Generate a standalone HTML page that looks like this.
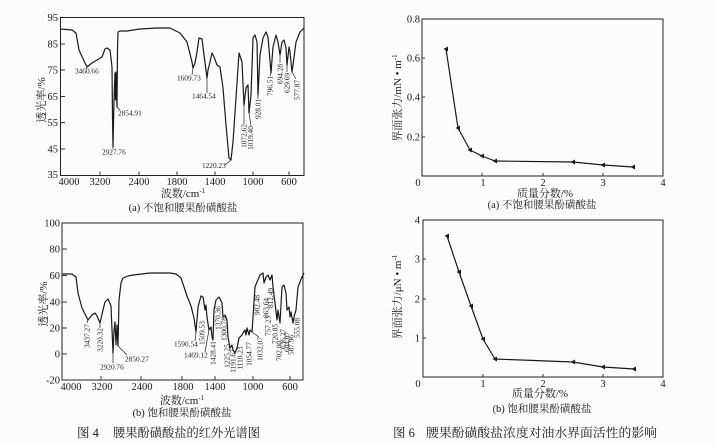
<!DOCTYPE html>
<html>
<head>
<meta charset="utf-8">
<style>
  html,body{margin:0;padding:0;background:#fcfcfc;}
  svg{display:block;}
  text{font-family:"Liberation Serif","Noto Serif CJK SC","Noto Sans CJK SC",serif;fill:#1a1a1a;}
  .t{font-size:10.5px;}
  .pk{font-size:7.3px;}
  .lab{font-size:11px;}
  .cap{font-size:10.5px;}
  .fig{font-size:12.5px;}
  .ax{fill:none;stroke:#222;stroke-width:1;}
  .cv{fill:none;stroke:#1a1a1a;stroke-width:1.2;stroke-linejoin:round;}
  .ld{stroke:#222;stroke-width:0.7;}
  .tk{stroke:#222;stroke-width:0.9;}
</style>
</head>
<body>
<svg width="715" height="446" viewBox="0 0 715 446" xmlns="http://www.w3.org/2000/svg">
<rect x="0" y="0" width="715" height="446" fill="#fcfcfc"/>

<!-- ================= TOP LEFT IR (a) ================= -->
<rect class="ax" x="60.5" y="17.5" width="243.5" height="158"/>
<g class="tk">
  <line x1="60.5" y1="44" x2="65" y2="44"/>
  <line x1="60.5" y1="70" x2="65" y2="70"/>
  <line x1="60.5" y1="96.5" x2="65" y2="96.5"/>
  <line x1="60.5" y1="122.7" x2="65" y2="122.7"/>
  <line x1="60.5" y1="149" x2="65" y2="149"/>
  <line x1="100" y1="175.5" x2="100" y2="171.5"/>
  <line x1="139" y1="175.5" x2="139" y2="171.5"/>
  <line x1="177" y1="175.5" x2="177" y2="171.5"/>
  <line x1="215" y1="175.5" x2="215" y2="171.5"/>
  <line x1="253" y1="175.5" x2="253" y2="171.5"/>
  <line x1="289" y1="175.5" x2="289" y2="171.5"/>
</g>
<g class="t" text-anchor="end">
  <text x="58" y="21">95</text>
  <text x="58" y="47.5">85</text>
  <text x="58" y="73.5">75</text>
  <text x="58" y="100">65</text>
  <text x="58" y="126.2">55</text>
  <text x="58" y="152.5">45</text>
  <text x="58" y="178">35</text>
</g>
<g class="t" text-anchor="middle">
  <text x="69" y="185">4000</text>
  <text x="100" y="185">3200</text>
  <text x="139" y="185">2400</text>
  <text x="177" y="185">1800</text>
  <text x="215" y="185">1400</text>
  <text x="253" y="185">1000</text>
  <text x="289" y="185">600</text>
</g>
<text class="lab" text-anchor="middle" transform="translate(45,100) rotate(-90)">透光率/%</text>
<text class="lab" x="183" y="197" text-anchor="middle">波数/cm<tspan dy="-4" font-size="7">-1</tspan></text>
<text class="cap" x="183" y="211" text-anchor="middle">(a) 不饱和腰果酚磺酸盐</text>

<polyline class="cv" points="60,29 72,30 76,33 79,50 85,63 87,67 92,63 97,60 102,57 105,49 107,48 110,50 112,67 112.5,117 113,147 114,100 115,73 115.5,100 116,72 117,107 117.5,50 118,32 120,31 127,31 140,29 157,28 170,28 180,33 187,42 192,62 193,68 195,63 197,52 199,38 202,39 204,55 207,78 208,70 210,62 212,53 214,57 217,65 220,67 223,88 226,125 229,158 231,160 233,142 236,98 239,53 242,62 244,105 246,88 248,85 249,113 251,95 253,38 255,35 257,42 258,95 260,55 263,38 266,32 268,37 271,73 273,47 276,35 278,42 280,55 282,42 284,40 286,48 287,65 289,47 290,52 292,72 293,65 296,42 300,32 304,28"/>

<g class="ld">
  <line x1="87" y1="67" x2="86" y2="69"/>
  <line x1="113" y1="147" x2="113" y2="149"/>
  <line x1="117" y1="107" x2="120" y2="110"/>
  <line x1="193" y1="68" x2="192" y2="75"/>
  <line x1="207" y1="78" x2="207" y2="93"/>
  <line x1="225" y1="165" x2="231" y2="160"/>
  <line x1="244" y1="105" x2="244" y2="124"/>
  <line x1="249" y1="113" x2="251" y2="126"/>
  <line x1="258" y1="95" x2="258" y2="99"/>
  <line x1="271" y1="73" x2="270" y2="76"/>
  <line x1="280" y1="55" x2="280" y2="63"/>
  <line x1="287" y1="65" x2="287" y2="72"/>
  <line x1="292" y1="72" x2="296" y2="79"/>
</g>
<g class="pk">
  <text x="75" y="73.5">3460.66</text>
  <text x="102" y="154.5">2927.76</text>
  <text x="118" y="115.5">2854.91</text>
  <text x="177" y="80.5">1609.73</text>
  <text x="192" y="98.5">1464.54</text>
  <text x="202" y="168">1220.23</text>
</g>
<g class="pk" text-anchor="middle">
  <text transform="translate(246.5,136) rotate(-90)">1072.62</text>
  <text transform="translate(253,138) rotate(-90)">1019.40</text>
  <text transform="translate(260.5,109) rotate(-90)">928.01</text>
  <text transform="translate(272.5,86) rotate(-90)">796.51</text>
  <text transform="translate(282.5,74) rotate(-90)">694.28</text>
  <text transform="translate(289.5,83) rotate(-90)">629.69</text>
  <text transform="translate(299.5,90) rotate(-90)">577.87</text>
</g>

<!-- ================= BOTTOM LEFT IR (b) ================= -->
<rect class="ax" x="62" y="223" width="241" height="157"/>
<g class="tk">
  <line x1="62" y1="249" x2="67" y2="249"/>
  <line x1="62" y1="275.5" x2="67" y2="275.5"/>
  <line x1="62" y1="302" x2="67" y2="302"/>
  <line x1="62" y1="328" x2="67" y2="328"/>
  <line x1="62" y1="354" x2="67" y2="354"/>
  <line x1="101" y1="380" x2="101" y2="376"/>
  <line x1="141" y1="380" x2="141" y2="376"/>
  <line x1="182" y1="380" x2="182" y2="376"/>
  <line x1="215" y1="380" x2="215" y2="376"/>
  <line x1="253" y1="380" x2="253" y2="376"/>
  <line x1="290" y1="380" x2="290" y2="376"/>
</g>
<g class="t" text-anchor="end">
  <text x="60" y="226.5">100</text>
  <text x="60" y="252.5">80</text>
  <text x="60" y="279">60</text>
  <text x="60" y="305.5">40</text>
  <text x="60" y="331.5">20</text>
  <text x="60" y="357.5">0</text>
  <text x="60" y="383.5">-20</text>
</g>
<g class="t" text-anchor="middle">
  <text x="71" y="390">4000</text>
  <text x="102" y="390">3200</text>
  <text x="142" y="390">2400</text>
  <text x="183" y="390">1800</text>
  <text x="215" y="390">1400</text>
  <text x="253" y="390">1000</text>
  <text x="290" y="390">600</text>
</g>
<text class="lab" text-anchor="middle" transform="translate(47,304) rotate(-90)">透光率/%</text>
<text class="lab" x="182" y="404" text-anchor="middle">波数/cm<tspan dy="-4" font-size="7">-1</tspan></text>
<text class="cap" x="182" y="416" text-anchor="middle">(b) 饱和腰果酚磺酸盐</text>

<polyline class="cv" points="62,274 72,274 76,277 78,293 82,308 88,320 92,315 95,313 97,316 100,323 103,310 105,302 108,299 111,306 113,353 114,330 115,322 116,345 117,325 118,346 119,300 121,283 123,278 128,276 133,275 150,273 170,273 176,274 181,278 187,296 191,306 194,318 196,332 198,307 201,296 203,297 205,310 206,305 207,317 209,330 211,327 212,337 213,340 214,310 216,300 219,297 222,303 223,317 225,315 227,320 228,337 230,348 232,345 233,350 235,353 237,348 239,338 242,335 243,333 245,330 246,335 247,328 249,335 250,330 252,332 253,317 255,287 257,282 260,275 263,273 264,283 266,277 268,275 270,280 272,275 273,287 275,303 277,320 278,310 280,323 282,287 284,285 286,293 287,310 289,307 290,317 291,312 293,323 294,317 296,310 298,287 302,277 304,273"/>

<g class="ld">
  <line x1="88" y1="320" x2="87" y2="323"/>
  <line x1="100" y1="323" x2="100" y2="328"/>
  <line x1="113" y1="353" x2="113" y2="363"/>
  <line x1="118" y1="346" x2="127" y2="355"/>
  <line x1="196" y1="332" x2="195" y2="341"/>
  <line x1="209" y1="330" x2="205" y2="352"/>
  <line x1="252" y1="332" x2="259" y2="337"/>
</g>
<g class="pk">
  <text x="100" y="369.5">2920.76</text>
  <text x="125" y="361.5">2850.27</text>
  <text x="174" y="346.5">1590.54</text>
  <text x="184" y="357.5">1469.12</text>
</g>
<g class="pk" text-anchor="middle">
  <text transform="translate(89.5,336) rotate(-90)">3437.27</text>
  <text transform="translate(102.5,340) rotate(-90)">3220.32</text>
  <text transform="translate(204.5,333) rotate(-90)">1509.53</text>
  <text transform="translate(215.5,353) rotate(-90)">1428.41</text>
  <text transform="translate(220.5,318) rotate(-90)">1370.36</text>
  <text transform="translate(226.5,329) rotate(-90)">1300.78</text>
  <text transform="translate(229.5,356) rotate(-90)">1225.25</text>
  <text transform="translate(235.5,361) rotate(-90)">1191.67</text>
  <text transform="translate(242.5,358) rotate(-90)">1110.23</text>
  <text transform="translate(251.5,354) rotate(-90)">1054.77</text>
  <text transform="translate(262.5,349) rotate(-90)">1032.07</text>
  <text transform="translate(259.5,305) rotate(-90)">902.48</text>
  <text transform="translate(268.5,308) rotate(-90)">863.64</text>
  <text transform="translate(273,298) rotate(-90)">812.49</text>
  <text transform="translate(270.5,326) rotate(-90)">757.23</text>
  <text transform="translate(277.5,334) rotate(-90)">720.85</text>
  <text transform="translate(281.5,351) rotate(-90)">702.00</text>
  <text transform="translate(285.5,339) rotate(-90)">636.27</text>
  <text transform="translate(289.5,342) rotate(-90)">604.07</text>
  <text transform="translate(293.5,345) rotate(-90)">587.96</text>
  <text transform="translate(299.5,328) rotate(-90)">555.08</text>
</g>

<!-- ================= TOP RIGHT (a) ================= -->
<rect class="ax" x="422" y="19" width="241" height="157"/>
<g class="tk">
  <line x1="422" y1="58" x2="425" y2="58"/>
  <line x1="422" y1="97" x2="425" y2="97"/>
  <line x1="422" y1="137" x2="425" y2="137"/>
  <line x1="482" y1="176" x2="482" y2="173"/>
  <line x1="543" y1="176" x2="543" y2="173"/>
  <line x1="603" y1="176" x2="603" y2="173"/>
</g>
<g class="t" text-anchor="end">
  <text x="420" y="22.5">0.8</text>
  <text x="420" y="61.5">0.6</text>
  <text x="420" y="100.5">0.4</text>
  <text x="420" y="140.5">0.2</text>
</g>
<g class="t" text-anchor="middle">
  <text x="418" y="186">0</text>
  <text x="483" y="186">1</text>
  <text x="543" y="186">2</text>
  <text x="603" y="186">3</text>
  <text x="663" y="186">4</text>
</g>
<text class="lab" text-anchor="middle" transform="translate(401,98) rotate(-90)">界面张力/mN • m<tspan dy="-4" font-size="7">-1</tspan></text>
<text class="lab" x="545" y="197" text-anchor="middle">质量分数/%</text>
<text class="cap" x="542" y="208" text-anchor="middle">(a) 不饱和腰果酚磺酸盐</text>
<polyline class="cv" points="446,49 458,128 470,150 482,156 495,161 573,162 603,165 633,167"/>
<g fill="#1a1a1a">
  <polygon points="443.5,49 448,46.5 448,51.5"/>
  <polygon points="455.5,128 460,125.5 460,130.5"/>
  <polygon points="467.5,150 472,147.5 472,152.5"/>
  <polygon points="479.5,156 484,153.5 484,158.5"/>
  <polygon points="492.5,161 497,158.5 497,163.5"/>
  <polygon points="570.5,162 575,159.5 575,164.5"/>
  <polygon points="600.5,165 605,162.5 605,167.5"/>
  <polygon points="630.5,167 635,164.5 635,169.5"/>
</g>

<!-- ================= BOTTOM RIGHT (b) ================= -->
<rect class="ax" x="423" y="220" width="240" height="157"/>
<g class="tk">
  <line x1="423" y1="259" x2="426" y2="259"/>
  <line x1="423" y1="299" x2="426" y2="299"/>
  <line x1="423" y1="338" x2="426" y2="338"/>
  <line x1="483" y1="377" x2="483" y2="374"/>
  <line x1="543" y1="377" x2="543" y2="374"/>
  <line x1="603" y1="377" x2="603" y2="374"/>
</g>
<g class="t" text-anchor="end">
  <text x="420" y="223.5">4</text>
  <text x="420" y="262.5">3</text>
  <text x="420" y="302.5">2</text>
  <text x="420" y="341.5">1</text>
</g>
<g class="t" text-anchor="middle">
  <text x="418" y="387">0</text>
  <text x="483" y="387">1</text>
  <text x="543" y="387">2</text>
  <text x="603" y="387">3</text>
  <text x="663" y="387">4</text>
</g>
<text class="lab" text-anchor="middle" transform="translate(401,297) rotate(-90)">界面张力/μN • m<tspan dy="-4" font-size="7">-1</tspan></text>
<text class="lab" x="540" y="397" text-anchor="middle">质量分数/%</text>
<text class="cap" x="542" y="412" text-anchor="middle">(b) 饱和腰果酚磺酸盐</text>
<polyline class="cv" points="447,236 459,272 471,306 483,339 495,359 573,362 603,367 634,369"/>
<g fill="#1a1a1a">
  <polygon points="444.5,236 449,233.5 449,238.5"/>
  <polygon points="456.5,272 461,269.5 461,274.5"/>
  <polygon points="468.5,306 473,303.5 473,308.5"/>
  <polygon points="480.5,339 485,336.5 485,341.5"/>
  <polygon points="492.5,359 497,356.5 497,361.5"/>
  <polygon points="570.5,362 575,359.5 575,364.5"/>
  <polygon points="600.5,367 605,364.5 605,369.5"/>
  <polygon points="631.5,369 636,366.5 636,371.5"/>
</g>

<!-- ================= FIGURE CAPTIONS ================= -->
<text class="fig" x="77" y="437">图 4</text>
<text class="fig" x="113" y="437" textLength="147" lengthAdjust="spacingAndGlyphs">腰果酚磺酸盐的红外光谱图</text>
<text class="fig" x="393" y="437">图 6</text>
<text class="fig" x="426" y="437" textLength="231" lengthAdjust="spacingAndGlyphs">腰果酚磺酸盐浓度对油水界面活性的影响</text>
</svg>
</body>
</html>
